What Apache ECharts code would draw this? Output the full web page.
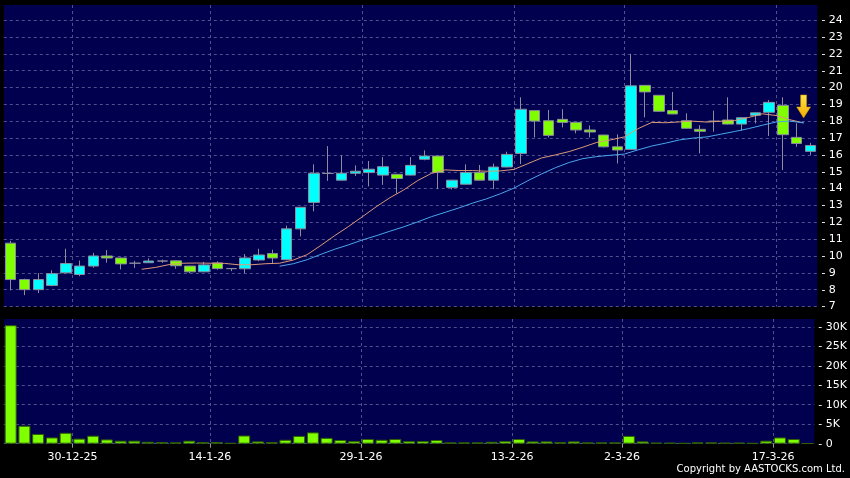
<!DOCTYPE html>
<html><head><meta charset="utf-8">
<script src="https://cdn.jsdelivr.net/npm/echarts@6/dist/echarts.min.js"></script>
<style>html,body{margin:0;padding:0;background:#000;}#c{width:850px;height:478px;}</style>
</head><body><div id="c"></div>
<script>
// trading days (one per candle boundary)
const days = ['19-12-25','22-12-25','23-12-25','24-12-25','29-12-25','30-12-25','31-12-25','2-1-26','5-1-26','6-1-26',
'7-1-26','8-1-26','9-1-26','12-1-26','13-1-26','14-1-26','15-1-26','16-1-26','19-1-26','20-1-26',
'21-1-26','22-1-26','23-1-26','26-1-26','27-1-26','28-1-26','29-1-26','30-1-26','2-2-26','3-2-26',
'4-2-26','5-2-26','6-2-26','9-2-26','10-2-26','11-2-26','12-2-26','13-2-26','16-2-26','20-2-26',
'23-2-26','24-2-26','25-2-26','26-2-26','27-2-26','2-3-26','3-3-26','4-3-26','5-3-26','6-3-26',
'9-3-26','10-3-26','11-3-26','12-3-26','13-3-26','16-3-26','17-3-26','18-3-26','19-3-26','20-3-26'];
const tickDays = ['30-12-25','14-1-26','29-1-26','13-2-26','2-3-26','17-3-26'];
const candleDays = days.slice(1);

const open  = [10.76,8.6,8.0,8.25,9.0,8.9,9.4,10.0,9.88,9.57,9.6,9.7,9.71,9.4,9.06,9.59,9.25,9.24,9.76,10.14,
9.78,11.61,13.18,14.9,14.5,14.91,14.95,14.8,14.85,14.8,15.74,15.93,14.07,14.26,14.95,14.5,15.28,16.09,18.63,18.03,
18.11,17.93,17.48,17.18,16.48,16.33,20.13,19.54,18.63,18.03,17.52,18.0,18.07,17.83,18.35,18.53,18.94,17.04,16.21];
const close = [8.6,8.0,8.6,8.95,9.55,9.4,10.0,9.88,9.53,9.57,9.7,9.7,9.42,9.06,9.47,9.25,9.25,9.88,10.06,9.88,
11.61,12.89,14.91,14.9,14.91,15.03,15.15,15.3,14.6,15.38,15.93,14.95,14.5,14.95,14.5,15.28,16.03,18.71,18.01,17.16,
17.93,17.48,17.36,16.48,16.29,20.1,19.74,18.59,18.43,17.58,17.4,18.0,17.83,18.21,18.5,19.12,17.2,16.68,16.56];
const low   = [7.96,7.67,7.8,8.2,8.98,8.8,9.3,9.6,9.2,9.29,9.58,9.59,9.24,8.98,9.05,9.18,9.1,8.98,9.69,9.57,
9.75,11.16,12.65,14.46,14.48,14.75,14.13,14.22,13.71,14.78,15.68,13.97,13.95,14.24,14.48,13.97,15.26,15.45,17.04,17.04,
17.63,17.28,17.04,16.44,15.49,16.3,18.23,18.55,18.42,17.56,16.09,17.38,17.8,17.44,17.87,17.12,15.1,16.48,16.0];
const high  = [10.9,8.65,8.98,9.15,10.43,9.73,10.18,10.35,9.9,9.71,9.86,9.78,9.72,9.42,9.65,9.69,9.27,10.12,10.43,10.37,
11.8,12.9,15.44,16.52,15.97,15.38,15.64,15.87,14.86,15.87,16.27,15.95,14.52,15.44,15.4,15.48,16.19,19.42,18.65,18.67,
18.71,17.95,17.75,17.2,17.22,22.0,20.15,19.55,19.74,18.47,17.77,18.63,19.42,18.23,18.52,19.26,19.42,17.87,16.72];
const volume = [30400,4600,2500,1600,2800,1300,2050,1100,770,770,500,430,340,770,430,430,170,2100,600,430,
1000,2000,2900,1500,940,680,1200,1000,1200,680,700,940,340,340,340,500,680,1200,600,600,
430,600,340,340,340,2000,600,260,260,170,340,340,260,260,170,770,1600,1200,100];

// moving averages, one value per boundary (null where not drawn)
const ma10 = [null,null,null,null,null,null,null,null,null,null,
9.21,9.32,9.49,9.57,9.58,9.57,9.56,9.48,9.48,9.54,
9.57,9.76,10.08,10.63,11.21,11.75,12.33,12.92,13.46,13.92,
14.47,14.9,15.11,15.07,15.07,15.03,15.05,15.14,15.48,15.82,
16.0,16.2,16.46,16.74,16.89,17.07,17.56,17.93,17.91,17.96,
18.0,17.95,18.0,18.04,18.22,18.44,18.34,18.09,17.9,null];
const ma20 = [null,null,null,null,null,null,null,null,null,null,
null,null,null,null,null,null,null,null,null,null,
9.39,9.54,9.78,10.1,10.4,10.66,10.95,11.2,11.47,11.73,
12.02,12.33,12.59,12.85,13.14,13.39,13.69,14.03,14.47,14.87,
15.24,15.55,15.78,15.9,15.98,16.05,16.3,16.53,16.7,16.89,
17.0,17.07,17.23,17.39,17.56,17.76,17.95,18.01,17.9,null];
const arrowDay = '19-3-26';
const arrowPrice = 18.88;
const copyright = 'Copyright by AASTOCKS.com Ltd.';

const NAVY = '#00004e', GRIDC = '#50508e', FONT = 'DejaVu Sans';
const isTick = (i, v) => tickDays.indexOf(v) >= 0;
const dashed = {show: true, lineStyle: {color: GRIDC, type: [3, 3], width: 1}};
const candleData = open.map((o, i) => [o, close[i], low[i], high[i]]);

const chart = echarts.init(document.getElementById('c'));
chart.setOption({
  backgroundColor: '#000',
  animation: false,
  grid: [
    {left: 3.8, right: 32.6, top: 5, bottom: 171.5, show: true, backgroundColor: NAVY, borderWidth: 0},
    {left: 3.8, right: 32.6, top: 319, bottom: 34.3, show: true, backgroundColor: NAVY, borderWidth: 0}
  ],
  xAxis: [
    {type: 'category', gridIndex: 0, position: 'bottom', data: candleDays, boundaryGap: true, show: false},
    {type: 'category', gridIndex: 0, position: 'bottom', data: days, boundaryGap: false,
      axisLine: {show: false}, axisTick: {show: false}, axisLabel: {show: false},
      splitLine: Object.assign({interval: isTick}, dashed)},
    {type: 'category', gridIndex: 1, position: 'bottom', data: candleDays, boundaryGap: true, show: false},
    {type: 'category', gridIndex: 1, position: 'bottom', data: days, boundaryGap: false,
      axisLine: {show: false},
      axisTick: {show: true, interval: isTick, length: 4, lineStyle: {color: '#999'}},
      axisLabel: {interval: isTick, color: '#fff', fontFamily: FONT, fontSize: 11, margin: 8},
      splitLine: Object.assign({interval: isTick}, dashed)}
  ],
  yAxis: [
    {type: 'value', gridIndex: 0, position: 'right', min: 7, max: 24.9, interval: 1,
      axisLine: {show: false}, axisTick: {show: false},
      axisLabel: {color: '#fff', fontFamily: FONT, fontSize: 11, margin: 4, showMaxLabel: false,
        formatter: v => Number.isInteger(v) ? '- ' + v : ''},
      splitLine: Object.assign({showMaxLine: false}, dashed)},
    {type: 'value', gridIndex: 1, position: 'right', min: 0, max: 32000, interval: 5000,
      axisLine: {show: false}, axisTick: {show: false},
      axisLabel: {color: '#fff', fontFamily: FONT, fontSize: 11, margin: 4, showMaxLabel: false,
        formatter: v => v % 5000 === 0 ? '- ' + (v ? v / 1000 + 'K' : '0') : ''},
      splitLine: Object.assign({showMaxLine: false}, dashed)}
  ],
  series: [
    {type: 'candlestick', xAxisIndex: 0, yAxisIndex: 0, data: candleData, barWidth: 11,
      itemStyle: {color: '#00ffff', color0: '#80ff00', borderColor: '#8c8c9c', borderColor0: '#8c8c9c',
        borderColorDoji: '#8c8c9c', borderWidth: 1}},
    {type: 'line', xAxisIndex: 1, yAxisIndex: 0, data: ma10, symbol: 'none',
      lineStyle: {color: '#dc9a78', width: 1},
      markPoint: {
        symbol: 'path://M4,0 L10,0 L10,12 L14,12 L7,23 L0,12 L4,12 Z',
        symbolSize: [14, 23],
        label: {show: false},
        itemStyle: {
          color: {type: 'linear', x: 0, y: 0, x2: 0, y2: 1,
            colorStops: [{offset: 0, color: '#ffe84a'}, {offset: 1, color: '#f2a800'}]},
          borderColor: '#c88a00', borderWidth: 0.5
        },
        data: [{coord: [arrowDay, arrowPrice]}]
      }},
    {type: 'line', xAxisIndex: 1, yAxisIndex: 0, data: ma20, symbol: 'none',
      lineStyle: {color: '#4aa6ee', width: 1}},
    {type: 'bar', xAxisIndex: 2, yAxisIndex: 1, data: volume, barWidth: 12,
      itemStyle: {color: '#80ff00', borderColor: '#2f5f00', borderWidth: 1}}
  ],
  graphic: [
    {type: 'text', right: 5, top: 464,
      style: {text: copyright, fill: '#fff', font: '10px "DejaVu Sans"'}}
  ]
});
</script>
</body></html>
